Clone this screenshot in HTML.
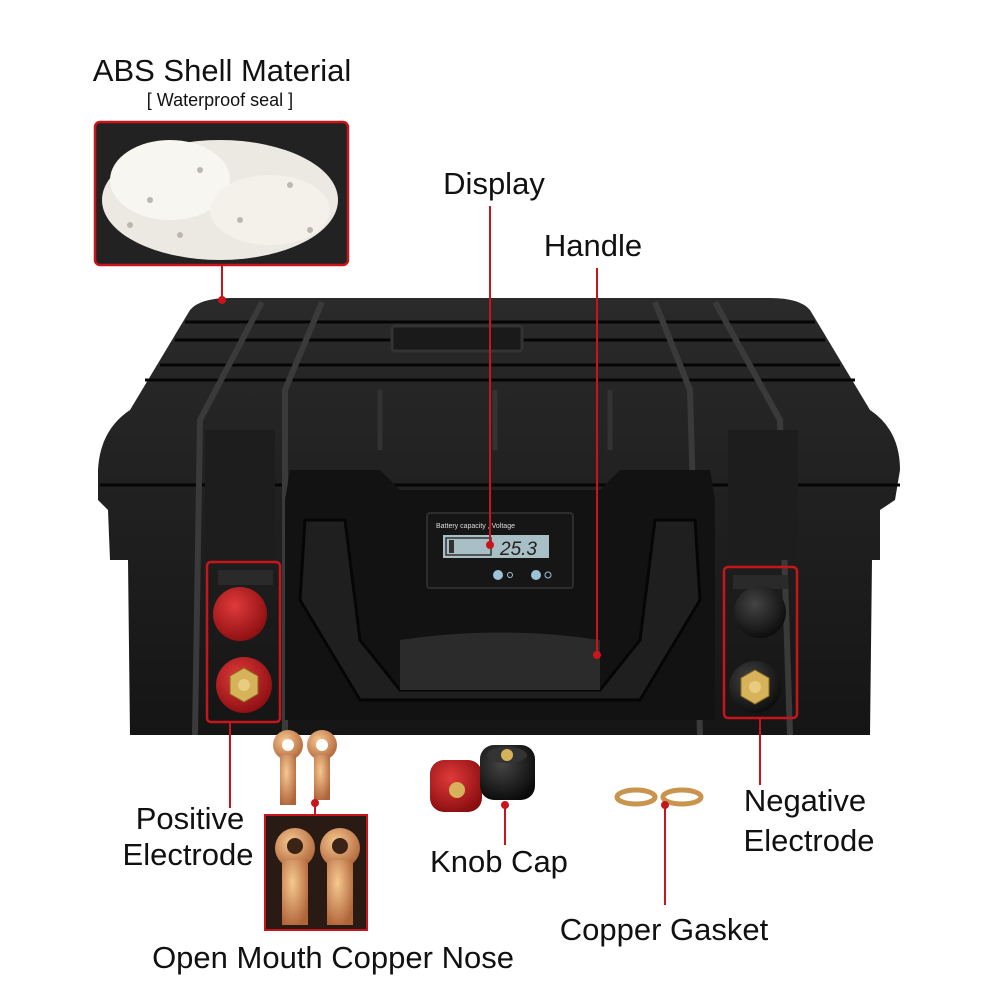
<!DOCTYPE html>
<html><head><meta charset="utf-8"><style>
html,body{margin:0;padding:0;background:#fff}
svg{display:block}
text{font-family:"Liberation Sans",sans-serif;fill:#111}
</style></head><body>
<svg width="1000" height="1000" viewBox="0 0 1000 1000" xmlns="http://www.w3.org/2000/svg">
<rect width="1000" height="1000" fill="#fff"/>
<defs>
<linearGradient id="lid" x1="0" y1="0" x2="0" y2="1"><stop offset="0" stop-color="#2a2a2a"/><stop offset="1" stop-color="#151515"/></linearGradient>
<radialGradient id="red" cx="0.4" cy="0.35" r="0.7"><stop offset="0" stop-color="#e03a3a"/><stop offset="1" stop-color="#8a0d10"/></radialGradient>
<radialGradient id="blk" cx="0.4" cy="0.35" r="0.7"><stop offset="0" stop-color="#444"/><stop offset="1" stop-color="#0a0a0a"/></radialGradient>
<radialGradient id="cu" cx="0.4" cy="0.35" r="0.7"><stop offset="0" stop-color="#f6c98f"/><stop offset="1" stop-color="#b0643a"/></radialGradient>
</defs>
<path d="M190 310 Q200 298 230 298 L770 298 Q800 298 810 310 L870 410 Q900 430 900 470 L895 500 L880 510 L880 560 L872 560 L870 735 L130 735 L128 560 L110 560 L108 510 L98 500 L98 470 Q100 430 130 410 Z" fill="url(#lid)"/>
<g stroke="#050505" stroke-width="3" fill="none">
<path d="M160 365 L840 365"/><path d="M145 380 L855 380"/><path d="M175 340 L825 340"/><path d="M185 322 L815 322"/>
<path d="M100 485 L900 485"/>
</g>
<g stroke="#3a3a3a" stroke-width="6" fill="none">
<path d="M262 302 L200 420 L195 735"/><path d="M322 302 L285 390 L285 735"/>
<path d="M655 302 L690 390 L700 735"/><path d="M715 302 L780 420 L790 735"/>
</g>
<rect x="392" y="326" width="130" height="25" rx="3" fill="#1a1a1a" stroke="#333" stroke-width="3"/>
<path d="M380 390 L380 450 M495 390 L495 450 M610 390 L610 450" stroke="#333" stroke-width="5"/>
<rect x="205" y="430" width="70" height="130" fill="#1d1d1d"/>
<rect x="728" y="430" width="70" height="130" fill="#1d1d1d"/>
<path d="M290 470 L380 470 L400 490 L600 490 L620 470 L710 470 L715 500 L715 720 L285 720 L285 500 Z" fill="#121212"/>
<path d="M305 520 L345 520 L360 640 L400 690 L600 690 L640 640 L655 520 L695 520 L700 600 L640 700 L360 700 L300 600 Z" fill="#1f1f1f" stroke="#060606" stroke-width="3"/>
<path d="M400 640 Q500 625 600 640 L600 690 L400 690 Z" fill="#2b2b2b"/>
<rect x="427" y="513" width="146" height="75" rx="3" fill="#161616" stroke="#2d2d2d" stroke-width="2"/>
<text x="436" y="528" style="font-size:7px;fill:#ddd">Battery capacity , Voltage</text>
<rect x="443" y="535" width="106" height="23" fill="#a8bfc6"/>
<rect x="446" y="538" width="45" height="17" fill="none" stroke="#333" stroke-width="1.5"/>
<rect x="449" y="540" width="5" height="13" fill="#333"/>
<text x="500" y="555" style="font-size:19px;fill:#222;font-style:italic">25.3</text>
<circle cx="498" cy="575" r="5" fill="#9ec2d6"/><circle cx="510" cy="575" r="2.5" fill="none" stroke="#9ec2d6"/>
<circle cx="536" cy="575" r="5" fill="#9ec2d6"/><circle cx="548" cy="575" r="3" fill="none" stroke="#9ec2d6"/>
<rect x="218" y="570" width="55" height="15" fill="#2a2a2a"/>
<circle cx="240" cy="614" r="27" fill="url(#red)"/>
<circle cx="244" cy="685" r="28" fill="url(#red)"/>
<polygon points="244,668 258,676 258,694 244,702 230,694 230,676" fill="#d6b35a" stroke="#8a6a20"/>
<circle cx="244" cy="685" r="6" fill="#e8cc80"/>
<rect x="207" y="562" width="73" height="160" rx="4" fill="none" stroke="#c8151b" stroke-width="2.5"/>
<rect x="733" y="575" width="55" height="14" fill="#2a2a2a"/>
<circle cx="760" cy="612" r="26" fill="url(#blk)"/>
<circle cx="755" cy="687" r="26" fill="url(#blk)"/>
<polygon points="755,670 769,678 769,696 755,704 741,696 741,678" fill="#d6b35a" stroke="#8a6a20"/>
<circle cx="755" cy="687" r="6" fill="#e8cc80"/>
<rect x="724" y="567" width="73" height="151" rx="4" fill="none" stroke="#c8151b" stroke-width="2.5"/>

<rect x="95" y="122" width="253" height="143" rx="5" fill="#222" stroke="#c8151b" stroke-width="2.5"/>
<ellipse cx="220" cy="200" rx="118" ry="60" fill="#ece9e2"/>
<ellipse cx="170" cy="180" rx="60" ry="40" fill="#f8f6f1"/>
<ellipse cx="270" cy="210" rx="60" ry="35" fill="#f4f1ea"/>
<g fill="#bdb8ae"><circle cx="150" cy="200" r="3"/><circle cx="200" cy="170" r="3"/><circle cx="240" cy="220" r="3"/><circle cx="290" cy="185" r="3"/><circle cx="180" cy="235" r="3"/><circle cx="310" cy="230" r="3"/><circle cx="130" cy="225" r="3"/></g>
<text x="222" y="81" text-anchor="middle" style="font-size:31px">ABS Shell Material</text>
<text x="220" y="106" text-anchor="middle" style="font-size:18px">[ Waterproof seal ]</text>
<line x1="222" y1="265" x2="222" y2="300" stroke="#c8151b" stroke-width="2"/><circle cx="222" cy="300" r="4" fill="#c8151b"/>

<text x="494" y="194" text-anchor="middle" style="font-size:31px">Display</text>
<line x1="490" y1="206" x2="490" y2="545" stroke="#c8151b" stroke-width="2"/><circle cx="490" cy="545" r="4" fill="#c8151b"/>
<text x="593" y="256" text-anchor="middle" style="font-size:31px">Handle</text>
<line x1="597" y1="268" x2="597" y2="655" stroke="#c8151b" stroke-width="2"/><circle cx="597" cy="655" r="4" fill="#c8151b"/>

<line x1="230" y1="722" x2="230" y2="808" stroke="#c8151b" stroke-width="2"/>
<text x="190" y="829" text-anchor="middle" style="font-size:31px">Positive</text>
<text x="188" y="865" text-anchor="middle" style="font-size:31px">Electrode</text>
<line x1="760" y1="718" x2="760" y2="785" stroke="#c8151b" stroke-width="2"/>
<text x="805" y="811" text-anchor="middle" style="font-size:31px">Negative</text>
<text x="809" y="851" text-anchor="middle" style="font-size:31px">Electrode</text>

<g fill="url(#cu)">
<circle cx="288" cy="745" r="15"/><rect x="280" y="755" width="16" height="50"/>
<circle cx="322" cy="745" r="15"/><rect x="314" y="755" width="16" height="45"/>
</g>
<circle cx="288" cy="745" r="6" fill="#fff"/><circle cx="322" cy="745" r="6" fill="#fff"/>
<circle cx="315" cy="803" r="4" fill="#c8151b"/>
<line x1="315" y1="803" x2="315" y2="815" stroke="#c8151b" stroke-width="2"/>
<rect x="265" y="815" width="102" height="115" fill="#2a1a14" stroke="#c8151b" stroke-width="2"/>
<g fill="url(#cu)">
<circle cx="295" cy="848" r="20"/><rect x="282" y="860" width="26" height="65"/>
<circle cx="340" cy="848" r="20"/><rect x="327" y="860" width="26" height="65"/>
</g>
<circle cx="295" cy="846" r="8" fill="#3a2418"/><circle cx="340" cy="846" r="8" fill="#3a2418"/>
<text x="333" y="968" text-anchor="middle" style="font-size:31px">Open Mouth Copper Nose</text>

<rect x="430" y="760" width="52" height="52" rx="14" fill="url(#red)"/>
<circle cx="457" cy="790" r="8" fill="#d6b35a"/>
<rect x="480" y="745" width="55" height="55" rx="14" fill="url(#blk)"/>
<ellipse cx="507" cy="755" rx="20" ry="8" fill="#333"/><circle cx="507" cy="755" r="6" fill="#d6b35a"/>
<line x1="505" y1="805" x2="505" y2="845" stroke="#c8151b" stroke-width="2"/><circle cx="505" cy="805" r="4" fill="#c8151b"/>
<text x="499" y="872" text-anchor="middle" style="font-size:31px">Knob Cap</text>

<ellipse cx="636" cy="797" rx="19" ry="7" fill="none" stroke="#c9954e" stroke-width="5"/>
<ellipse cx="682" cy="797" rx="19" ry="7" fill="none" stroke="#c9954e" stroke-width="5"/>
<line x1="665" y1="805" x2="665" y2="905" stroke="#c8151b" stroke-width="2"/><circle cx="665" cy="805" r="4" fill="#c8151b"/>
<text x="664" y="940" text-anchor="middle" style="font-size:31px">Copper Gasket</text>
</svg>
</body></html>
